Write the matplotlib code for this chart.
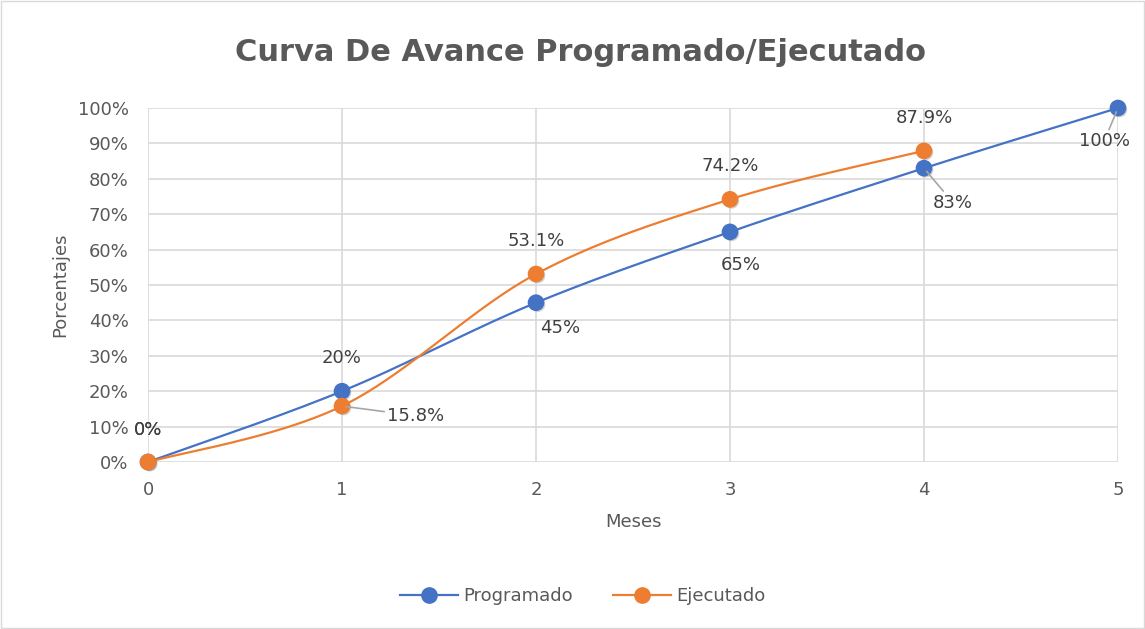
import numpy as np
import matplotlib.pyplot as plt
import matplotlib.patheffects as pe
from matplotlib.patches import Rectangle

meses = [0, 1, 2, 3, 4, 5]
programado = [0, 20, 45, 65, 83, 100]
ejecutado = [0, 15.8, 53.1, 74.2, 87.9]

prog_labels = ["0%", "20%", "45%", "65%", "83%", "100%"]
ejec_labels = ["0%", "15.8%", "53.1%", "74.2%", "87.9%"]

BLUE = "#4472C4"
ORANGE = "#ED7D31"
GRAY = "#595959"


def smooth(x, y, n=40):
    # bezier smoothing through every point, like a spreadsheet "smoothed line"
    p = np.column_stack([x, y]).astype(float)
    ext = np.vstack([p[0], p, p[-1]])
    out = []
    t = np.linspace(0, 1, n)[:, None]
    for i in range(len(p) - 1):
        p0, p1, p2, p3 = ext[i], ext[i + 1], ext[i + 2], ext[i + 3]
        c1 = p1 + (p2 - p0) / 6
        c2 = p2 - (p3 - p1) / 6
        seg = ((1 - t) ** 3) * p1 + 3 * ((1 - t) ** 2) * t * c1 + 3 * (1 - t) * t ** 2 * c2 + t ** 3 * p2
        out.append(seg if i == 0 else seg[1:])
    out = np.vstack(out)
    return out[:, 0], out[:, 1]


fig = plt.figure(figsize=(11.45, 6.29), dpi=100)
fig.patches.append(Rectangle((0.001, 0.001), 0.998, 0.998, transform=fig.transFigure,
                             fill=False, edgecolor="#D9D9D9", linewidth=1))
ax = fig.add_axes([0.1293, 0.2655, 0.8471, 0.5628])

shadow = [pe.SimplePatchShadow(offset=(1.2, -1.2), shadow_rgbFace="#808080", alpha=0.35), pe.Normal()]
for xs, ys, c, name in [(meses, programado, BLUE, "Programado"),
                        (meses[:len(ejecutado)], ejecutado, ORANGE, "Ejecutado")]:
    sx, sy = smooth(xs, ys)
    ax.plot(sx, sy, color=c, lw=1.6, zorder=3, clip_on=False)
    ax.plot(xs, ys, "o", color=c, ms=11, zorder=4, clip_on=False, path_effects=shadow)
    ax.plot([], [], "-o", color=c, lw=1.6, ms=11, label=name)

# label offsets in points
prog_off = [(0, 23), (0, 24), (17, -18), (8, -24), (21, -25), (-10, -24)]
prog_lead = [False, False, False, False, True, True]
ejec_off = [(0, 23), (53, -7), (0, 24), (0, 24), (0, 24)]
ejec_lead = [False, True, False, False, False]

lead = dict(arrowstyle="-", color="#A6A6A6", lw=1.2, shrinkA=0, shrinkB=3)
for xs, ys, labs, offs, leads in [(meses, programado, prog_labels, prog_off, prog_lead),
                                  (meses, ejecutado, ejec_labels, ejec_off, ejec_lead)]:
    for x, y, lab, off, ld in zip(xs, ys, labs, offs, leads):
        ax.annotate(lab, (x, y), xytext=off, textcoords="offset points",
                    ha="center", va="center", fontsize=13, color="#404040",
                    arrowprops=lead if ld else None, zorder=5)

ax.set_xlim(0, 5)
ax.set_ylim(0, 100)
ax.set_xticks(range(6))
ax.set_yticks(range(0, 101, 10))
ax.set_yticklabels([f"{v}%" for v in range(0, 101, 10)])
ax.grid(True, color="#D9D9D9", lw=1.2)
ax.set_axisbelow(True)
for s in ax.spines.values():
    s.set_visible(False)
ax.tick_params(length=0, labelsize=13, labelcolor=GRAY)
ax.tick_params(axis="y", pad=14)
ax.tick_params(axis="x", pad=14)

ax.set_xlabel("Meses", fontsize=13, color=GRAY, labelpad=10)
ax.set_ylabel("Porcentajes", fontsize=13, color=GRAY, labelpad=6)
fig.text(0.507, 0.917, "Curva De Avance Programado/Ejecutado", ha="center", va="center",
         fontsize=22, fontweight="bold", color=GRAY)

fig.legend(loc="center", bbox_to_anchor=(0.509, 0.052), ncol=2, frameon=False,
           fontsize=13, labelcolor=GRAY, handlelength=3.2, columnspacing=2.2,
           handletextpad=0.3)

fig.savefig("out.png", dpi=100)
